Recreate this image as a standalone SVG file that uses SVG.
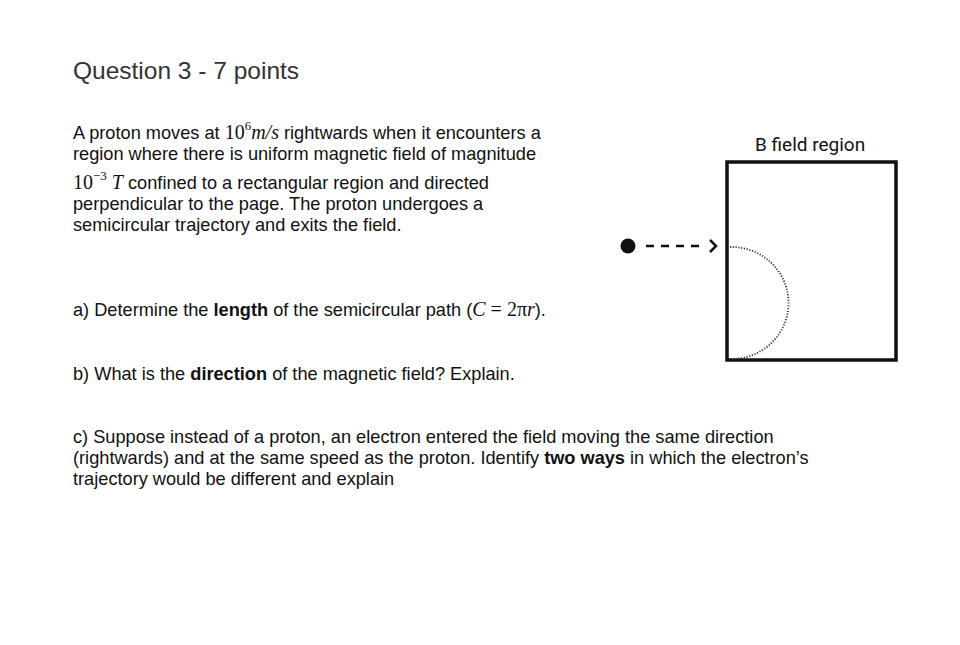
<svg xmlns="http://www.w3.org/2000/svg" width="960" height="645" viewBox="0 0 960 645">
<style>
text{font-family:"Liberation Sans",Arial,sans-serif;font-size:18.2px;fill:#111}
.m{font-family:"Liberation Serif","Times New Roman",serif;font-style:italic;font-size:20px}
.n{font-family:"Liberation Serif","Times New Roman",serif;font-size:20px}
.sup{font-family:"Liberation Serif",serif;font-size:13px}
</style>
<rect width="960" height="645" fill="#fff"/>
<text x="73" y="79" style="font-size:24.5px;fill:#333">Question 3 - 7 points</text>
<text x="73" y="139">A proton moves at <tspan class="n">10</tspan><tspan class="sup" dy="-9">6</tspan><tspan class="m" dy="9">m/s</tspan> rightwards when it encounters a</text>
<text x="73" y="160">region where there is uniform magnetic field of magnitude</text>
<text x="73" y="189"><tspan class="n">10</tspan><tspan class="sup" dy="-9">−3</tspan><tspan class="m" dy="9"> T</tspan> confined to a rectangular region and directed</text>
<text x="73" y="210">perpendicular to the page. The proton undergoes a</text>
<text x="73" y="231">semicircular trajectory and exits the field.</text>
<text x="73" y="316">a) Determine the <tspan font-weight="bold">length</tspan> of the semicircular path (<tspan class="m">C</tspan><tspan class="n"> = 2π</tspan><tspan class="m">r</tspan>).</text>
<text x="73" y="380">b) What is the <tspan font-weight="bold">direction</tspan> of the magnetic field? Explain.</text>
<text x="73" y="443">c) Suppose instead of a proton, an electron entered the field moving the same direction</text>
<text x="73" y="464">(rightwards) and at the same speed as the proton. Identify <tspan font-weight="bold">two ways</tspan> in which the electron’s</text>
<text x="73" y="485">trajectory would be different and explain</text>
<g id="field">
<text x="755" y="151" style="font-family:Roboto,sans-serif;font-size:19px">B field region</text>
<rect x="727" y="162" width="169" height="198" fill="none" stroke="#111" stroke-width="3.5"/>
</g>
<g id="proton"><circle cx="628" cy="246" r="7.5" fill="#111"/></g>
<g id="connectors">
<line x1="646" y1="246" x2="699" y2="246" stroke="#111" stroke-width="2.5" stroke-dasharray="8,7"/>
<polyline points="710,240 716,246 710,252" fill="none" stroke="#111" stroke-width="2.5"/>
<path d="M730,247 A57,56 0 0 1 733,359" fill="none" stroke="#333" stroke-width="1.8" stroke-dasharray="1.2,1.6"/>
</g>
</svg>
